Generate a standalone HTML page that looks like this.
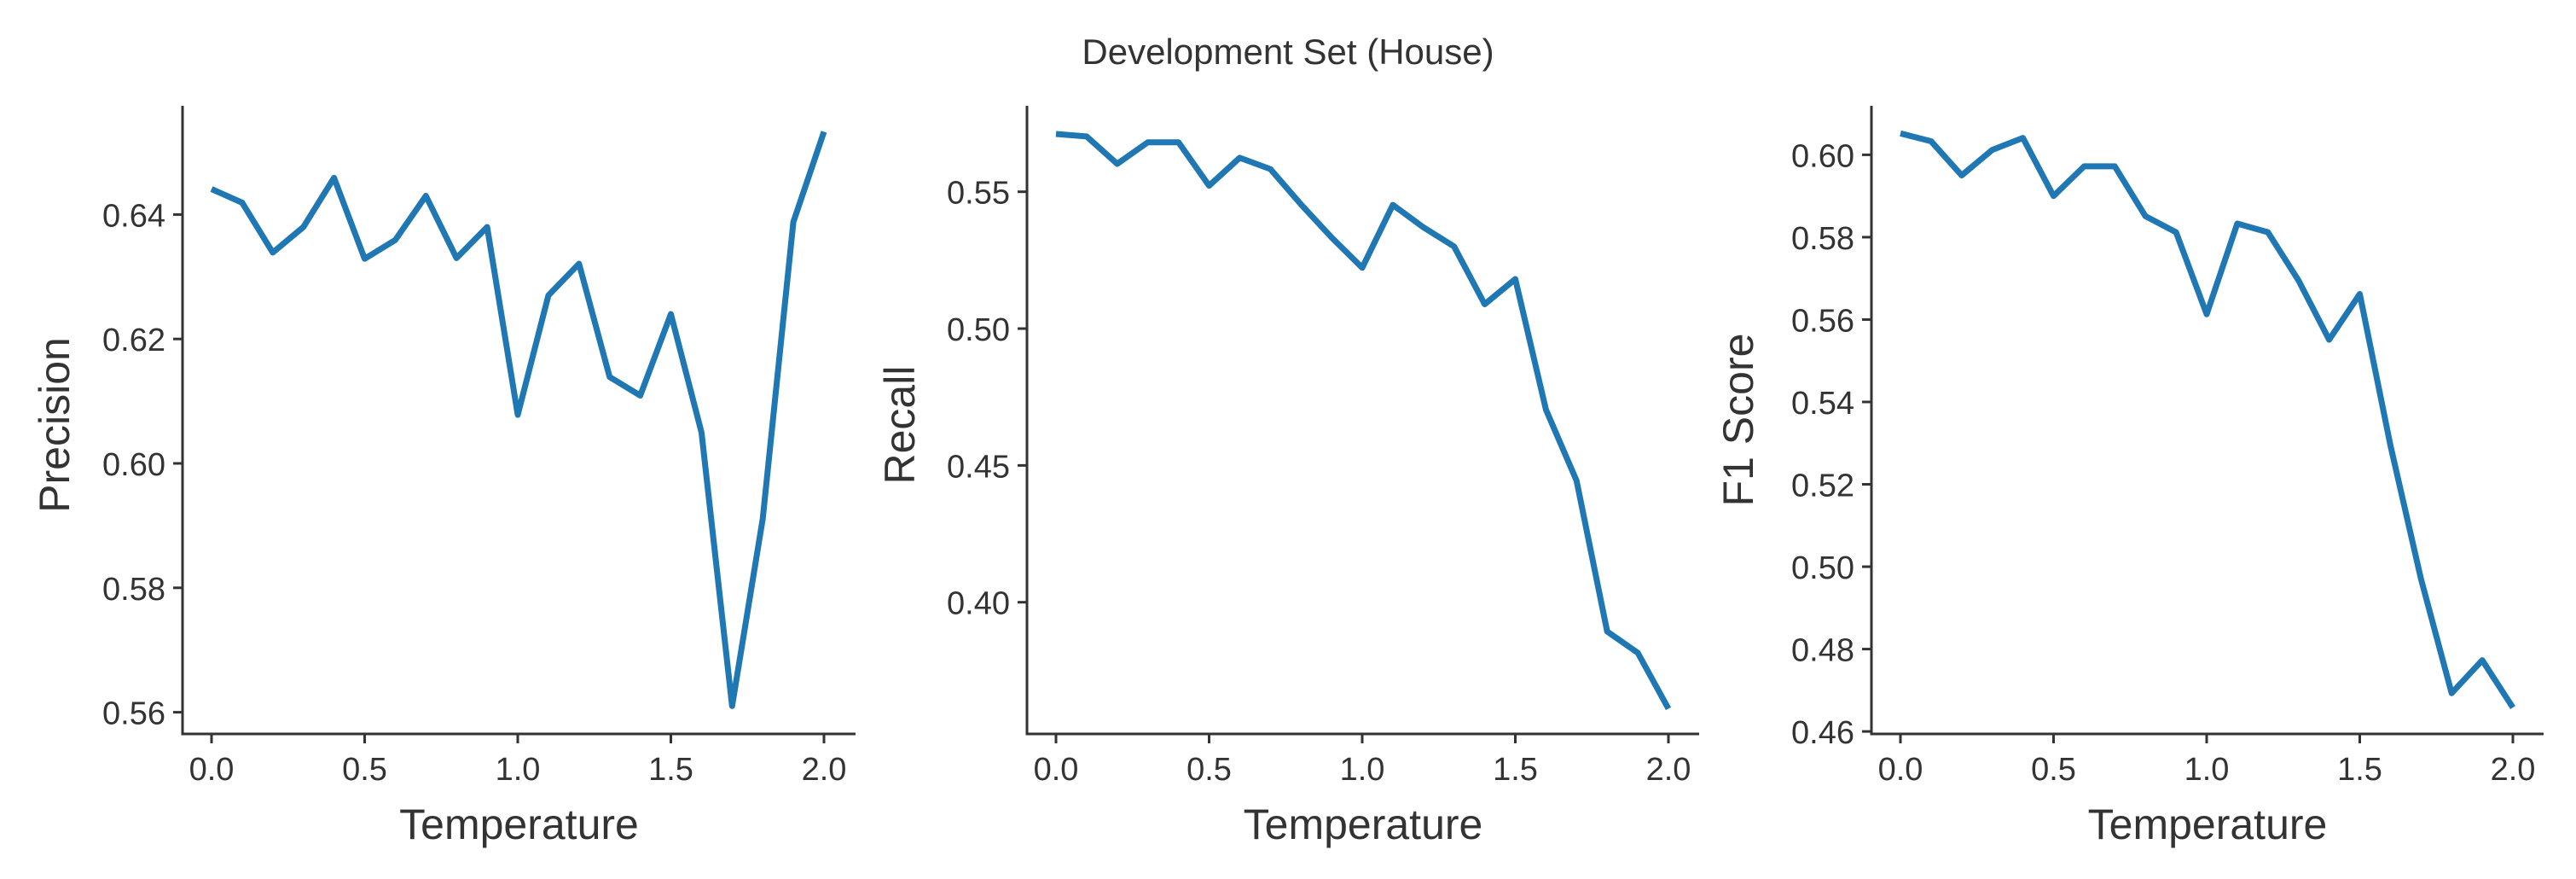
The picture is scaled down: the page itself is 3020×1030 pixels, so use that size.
<!DOCTYPE html>
<html><head><meta charset="utf-8"><style>
html,body{margin:0;padding:0;background:#fff;}
svg{display:block;font-family:"Liberation Sans",sans-serif;}
</style></head><body>
<svg id="fig" width="3020" height="1030" viewBox="0 0 3020 1030">
<text x="1510" y="75" text-anchor="middle" font-size="42" fill="#333">Development Set (House)</text>
</svg>
<script>
const temps = [0,0.1,0.2,0.3,0.4,0.5,0.6,0.7,0.8,0.9,1.0,1.1,1.2,1.3,1.4,1.5,1.6,1.7,1.8,1.9,2.0];
const precision = [0.6441,0.6419,0.6339,0.638,0.6459,0.6329,0.6359,0.643,0.633,0.638,0.6078,0.627,0.6321,0.6139,0.6109,0.624,0.605,0.561,0.5911,0.6388,0.6533];
const recall = [0.5711,0.5702,0.5602,0.5681,0.5681,0.5522,0.5624,0.5583,0.5454,0.5333,0.5222,0.5452,0.537,0.53,0.5089,0.5181,0.4704,0.4444,0.3893,0.3815,0.3611];
const f1 = [0.6052,0.6033,0.595,0.6012,0.6041,0.59,0.5972,0.5972,0.5851,0.5812,0.5613,0.5833,0.5812,0.5695,0.5551,0.5662,0.5295,0.497,0.4693,0.4773,0.4658];
const xTicks = [0,0.5,1.0,1.5,2.0];
const xTickLabels = ["0.0","0.5","1.0","1.5","2.0"];
const precTicks = [0.56,0.58,0.60,0.62,0.64];
const recTicks = [0.40,0.45,0.50,0.55];
const f1Ticks = [0.46,0.48,0.50,0.52,0.54,0.56,0.58,0.60];

const NS="http://www.w3.org/2000/svg";
const svg=document.getElementById('fig');
function mk(tag,attrs,parent){const e=document.createElementNS(NS,tag);for(const k in attrs)e.setAttribute(k,attrs[k]);(parent||svg).appendChild(e);return e;}

const panels=[
 {key:'precision',label:'Precision',data:precision,ticks:precTicks,dec:2,ax:214,x0:248,x2:966,right:1003,v1:0.64,y1:251.4,v2:0.56,y2:834.6,lx:68,ly:498},
 {key:'recall',label:'Recall',data:recall,ticks:recTicks,dec:2,ax:1204,x0:1238,x2:1956,right:1992,v1:0.55,y1:224.7,v2:0.40,y2:705.7,lx:1059,ly:498},
 {key:'f1',label:'F1 Score',data:f1,ticks:f1Ticks,dec:2,ax:2194,x0:2228,x2:2946,right:2982,v1:0.60,y1:181.4,v2:0.46,y2:857.1,lx:2042,ly:492}
];
const TOP=124,BOT=860;
panels.forEach(p=>{
 const g=mk('g',{});
 
 
 const xs=v=>p.x0+(v-0)*(p.x2-p.x0)/2;
 const ys=v=>p.y1+(v-p.v1)*(p.y2-p.y1)/(p.v2-p.v1);
 // axes
 const ya=mk('line',{x1:p.ax,y1:TOP,x2:p.ax,y2:BOT+1.5,stroke:'#333','stroke-width':3},g);
 
 
 const xa=mk('line',{x1:p.ax-1.5,y1:BOT,x2:p.right,y2:BOT,stroke:'#333','stroke-width':3},g);
 
 
 xTicks.forEach((t,i)=>{
  const x=xs(t);
  mk('line',{x1:x,y1:BOT,x2:x,y2:BOT+11,stroke:'#333','stroke-width':3},g);
  const tl=mk('text',{x:x,y:BOT+54,'text-anchor':'middle','font-size':38,fill:'#333'},g);
  tl.textContent=xTickLabels[i];
  
  
 });
 p.ticks.forEach(t=>{
  const y=ys(t);
  mk('line',{x1:p.ax-11,y1:y,x2:p.ax,y2:y,stroke:'#333','stroke-width':3},g);
  const tl=mk('text',{x:p.ax-20,y:y+14,'text-anchor':'end','font-size':38,fill:'#333'},g);
  tl.textContent=t.toFixed(p.dec);
  
  
 });
 const xl=mk('text',{x:(p.ax+p.right)/2,y:983,'text-anchor':'middle','font-size':50,fill:'#333'},g);
 xl.textContent='Temperature';
 
 
 const yl=mk('text',{x:p.lx,y:p.ly,'text-anchor':'middle','font-size':50,fill:'#333',transform:`rotate(-90 ${p.lx} ${p.ly})`,'dominant-baseline':'middle'},g);
 yl.textContent=p.label;
 
 
 const pts=p.data.map((v,i)=>xs(temps[i]).toFixed(1)+','+ys(v).toFixed(1)).join(' ');
 const pl=mk('polyline',{points:pts,fill:'none',stroke:'#1f77b4','stroke-width':7,'stroke-linejoin':'round'},g);
 
 
});
</script>
</body></html>
